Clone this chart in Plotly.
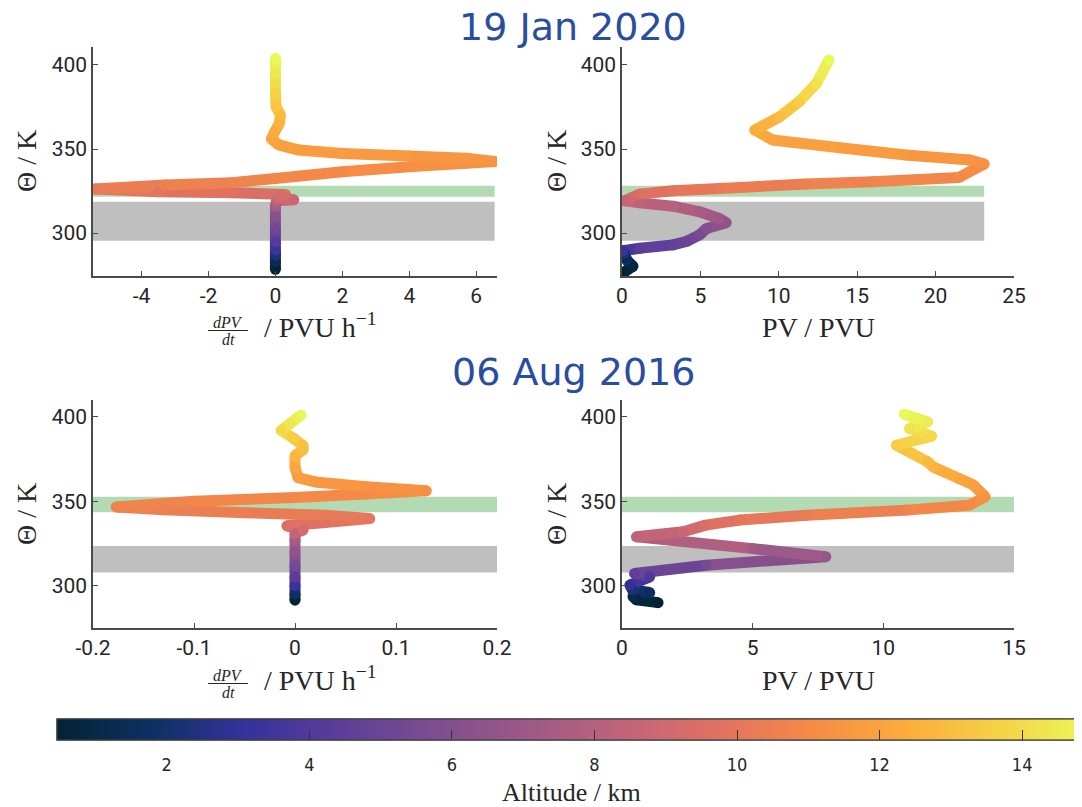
import plotly.graph_objects as go
from plotly.colors import sample_colorscale

# ---------------- data ----------------
# 19 Jan 2020 : dPV/dt profile
jan_dpvdt = [0, 0, 0, 0, 0, 0, 0, 0, 0.03, 0.55, 0.1, 0.3, -1.3, -3.5, -5.4, -3.3, -1.3, 0.0, 2.0, 4.0,
             5.7, 6.55, 5.7, 4.0, 2.0, 0.7, 0.1, -0.12, -0.03, 0.12, 0.15, 0.02, 0.0, 0.0, 0.0]
jan_dpvdt_theta = [278.5, 283, 287, 290, 295, 302, 310, 316, 319.2, 319.8, 321.3, 323.0, 324.0, 324.6, 326.2,
                   328.6, 330.0, 332.5, 336.5, 339.5, 341.5, 342.6, 344.5, 345.8, 347.4, 349.4, 352.5, 356.0,
                   360.0, 365.3, 370.2, 375.2, 383, 395, 404]
jan_dpvdt_alt = [0.5, 1.3, 2.3, 3.3, 4.2, 5.2, 6.2, 7.4, 8.3, 8.8, 9.1, 9.4, 9.7, 9.9, 10.2, 10.5, 10.6, 10.8,
                 11.0, 11.2, 11.3, 11.4, 11.5, 11.6, 11.7, 11.8, 11.9, 12.1, 12.3, 12.6, 12.9, 13.2, 13.7, 14.4, 15.0]

# 19 Jan 2020 : PV profile
jan_pv = [0.17, 0.7, 0.3, 0.17, 0.06, 1.13, 3.25, 4.1, 4.95, 5.4, 6.65, 6.2, 4.95, 3.25, 1.13, 0.17, 1.13,
          3.25, 6.23, 11.75, 16.0, 21.5, 23.1, 22.2, 18.1, 13.9, 9.6, 8.46, 10.05, 11.3, 12.4, 13.2]
jan_pv_theta = [277, 280.3, 284, 288, 289.5, 291, 293, 295, 299, 302.8, 306.2, 308.7, 312.7, 316, 318, 319.2,
                323.2, 325.2, 326.6, 329.2, 330.6, 333.1, 341.1, 343.5, 346.5, 350.8, 355.4, 361.3, 369.2,
                378.2, 389, 403]
jan_pv_alt = [0.5, 0.9, 1.4, 2.2, 3.2, 4.3, 4.7, 5.0, 5.5, 6.0, 6.6, 7.0, 7.5, 8.0, 8.3, 8.6, 9.5, 9.9, 10.2,
              10.5, 10.7, 10.9, 11.3, 11.4, 11.6, 11.8, 12.0, 12.4, 12.9, 13.5, 14.2, 15.0]

# 06 Aug 2016 : dPV/dt profile
aug_dpvdt = [0, 0, 0, 0, 0, 0, 0, 0, 0.008, -0.008, 0.03, 0.074, 0.03, -0.05, -0.13, -0.177, -0.1, 0.0,
             0.07, 0.13, 0.07, 0.02, 0.003, 0.0, 0.0, 0.008, 0.008, -0.002, -0.0136, -0.005, 0.006]
aug_dpvdt_theta = [291.5, 295, 300, 305, 312, 320, 327, 331, 333, 335.5, 337.5, 339.8, 341.8, 343.3, 345.0,
                   346.7, 350.0, 352.3, 354.3, 356.2, 358.6, 361.5, 364, 370, 377, 380.5, 383, 387.5, 392,
                   396, 401]
aug_dpvdt_alt = [0.5, 1.8, 3.2, 4.3, 5.4, 6.5, 7.5, 8.5, 9.2, 9.5, 9.8, 10.0, 10.2, 10.4, 10.5, 10.6, 10.8,
                 10.9, 11.0, 11.2, 11.4, 11.6, 11.8, 12.2, 12.7, 12.9, 13.1, 13.5, 13.9, 14.4, 14.9]

# 06 Aug 2016 : PV profile
aug_pv = [1.38, 0.55, 0.42, 1.06, 0.4, 0.3, 1.06, 0.48, 3.23, 7.8, 5.0, 0.55, 2.34, 3.2, 4.5, 7.06, 10.9,
          13.3, 13.9, 13.45, 12.9, 11.9, 11.7, 10.5, 11.85, 11.0, 11.7, 10.8]
aug_pv_theta = [290, 291.7, 293.7, 296, 297.6, 300.4, 305.3, 307.3, 312.2, 317.2, 322, 329, 332, 335.9,
                338.9, 341.8, 344.8, 347.7, 352.7, 359.6, 363.5, 370.4, 373.4, 383.2, 388.6, 393.1, 397, 401.6]
aug_pv_alt = [0.5, 0.8, 1.1, 1.6, 2.2, 3.0, 3.9, 4.5, 5.5, 6.8, 7.3, 8.3, 8.8, 9.5, 9.9, 10.3, 10.7, 11.0,
              11.4, 11.9, 12.1, 12.6, 12.8, 13.5, 13.9, 14.3, 14.6, 15.0]

# highlighted theta layers [bottom, top]
jan_green_band = [321.6, 328.2]
jan_gray_band = [295.4, 318.6]
aug_green_band = [343.6, 352.7]
aug_gray_band = [307.9, 323.5]

titles = ["19 Jan 2020", "06 Aug 2016"]
dpvdt_ticks_jan = [-4, -2, 0, 2, 4, 6]
dpvdt_ticks_aug = [-0.2, -0.1, 0, 0.1, 0.2]
dpvdt_ticktext_aug = ["-0.2", "-0.1", "0", "0.1", "0.2"]
pv_ticks_jan = [0, 5, 10, 15, 20, 25]
pv_ticks_aug = [0, 5, 10, 15]
theta_ticks = [300, 350, 400]
alt_ticks = [2, 4, 6, 8, 10, 12, 14]

# ---------------- style ----------------
OFF = 8                      # page body margin of the html page
W, H = 1082 - OFF, 807 - OFF
THERMAL = ['rgb(3, 35, 51)', 'rgb(13, 48, 100)', 'rgb(53, 50, 155)', 'rgb(93, 62, 153)',
           'rgb(126, 77, 143)', 'rgb(158, 89, 135)', 'rgb(193, 100, 121)', 'rgb(225, 113, 97)',
           'rgb(246, 139, 69)', 'rgb(251, 173, 60)', 'rgb(246, 211, 70)', 'rgb(231, 250, 90)']
CMIN, CMAX = 0.46, 15.05
TICKFONT = dict(family="Roboto, Arial, sans-serif", size=21, color="#262626")
SERIF = "Liberation Serif, Times New Roman, serif"
AXCOL = "#4a4a4a"
LW = 11


def px_x(p):
    return (p - OFF) / W


def px_y(p):
    return 1 - (p - OFF) / H


dom_left = [px_x(93), px_x(497)]
dom_right = [px_x(622), px_x(1014)]
dom_top = [px_y(276), px_y(47)]
dom_bot = [px_y(628), px_y(400)]

fig = go.Figure()

panels = [
    (jan_dpvdt, jan_dpvdt_theta, jan_dpvdt_alt, "x", "y"),
    (jan_pv, jan_pv_theta, jan_pv_alt, "x2", "y2"),
    (aug_dpvdt, aug_dpvdt_theta, aug_dpvdt_alt, "x3", "y3"),
    (aug_pv, aug_pv_theta, aug_pv_alt, "x4", "y4"),
]


def tocolor(a):
    t = min(max((a - CMIN) / (CMAX - CMIN), 0), 1)
    return sample_colorscale(THERMAL, [t])[0]


cb_common = dict(orientation="h", x=px_x(57), xanchor="left", y=px_y(719), yanchor="top",
                 len=1040, lenmode="pixels", thickness=21, xpad=0, ypad=0,
                 outlinecolor="#404040", outlinewidth=1.2, tickvals=alt_ticks)
# colorbar 1: labels pushed down by invisible outside ticks
cb_labels = dict(cb_common, ticks="outside", ticklen=9, tickcolor="rgba(0,0,0,0)",
                 tickfont=dict(family="DejaVu Sans Condensed, Liberation Sans Narrow, Roboto, sans-serif",
                               size=18, color="#262626"))
# colorbar 2: inside tick marks, no labels
cb_marks = dict(cb_common, ticks="inside", ticklen=10, tickcolor="#333333", tickwidth=1.2,
                showticklabels=False)

for k, (xs, ts, alts, xa, ya) in enumerate(panels):
    for i in range(len(xs) - 1):
        fig.add_trace(go.Scatter(
            x=[xs[i], xs[i + 1]], y=[ts[i], ts[i + 1]], mode="lines",
            line=dict(color=tocolor((alts[i] + alts[i + 1]) / 2), width=LW),
            xaxis=xa, yaxis=ya, showlegend=False, hoverinfo="skip"))
    fig.add_trace(go.Scatter(
        x=xs, y=ts, mode="markers", xaxis=xa, yaxis=ya, showlegend=False,
        marker=dict(size=LW, color=alts, colorscale=THERMAL, cmin=CMIN, cmax=CMAX,
                    line=dict(width=0),
                    showscale=(k in (0, 1)),
                    colorbar=(cb_labels if k == 0 else cb_marks))))

# bands
bands = [
    ("x", "y", -5.45, 6.55, jan_green_band, jan_gray_band),
    ("x2", "y2", 0, 23.1, jan_green_band, jan_gray_band),
    ("x3", "y3", -0.2, 0.2, aug_green_band, aug_gray_band),
    ("x4", "y4", 0, 15, aug_green_band, aug_gray_band),
]
for xa, ya, x0, x1, g, gr in bands:
    fig.add_shape(type="rect", xref=xa, yref=ya, x0=x0, x1=x1, y0=g[0], y1=g[1],
                  fillcolor="#b3dbb3", line=dict(width=0), layer="below")
    fig.add_shape(type="rect", xref=xa, yref=ya, x0=x0, x1=x1, y0=gr[0], y1=gr[1],
                  fillcolor="#bfbfbf", line=dict(width=0), layer="below")

axcommon = dict(showline=True, linecolor=AXCOL, linewidth=1.5, ticks="inside", ticklen=5,
                tickcolor=AXCOL, tickwidth=1.3, showgrid=False, zeroline=False, tickfont=TICKFONT)

fig.update_layout(
    width=W, height=H, margin=dict(l=0, r=0, t=0, b=0, autoexpand=False),
    paper_bgcolor="white", plot_bgcolor="white",
    xaxis=dict(domain=dom_left, anchor="y", range=[-5.45, 6.62], tickvals=dpvdt_ticks_jan,
               ticktext=[str(v) for v in dpvdt_ticks_jan], **axcommon),
    yaxis=dict(domain=dom_top, anchor="x", range=[274.5, 410.7], tickvals=theta_ticks, **axcommon),
    xaxis2=dict(domain=dom_right, anchor="y2", range=[0, 25], tickvals=pv_ticks_jan, **axcommon),
    yaxis2=dict(domain=dom_top, anchor="x2", range=[274.5, 410.7], tickvals=theta_ticks, **axcommon),
    xaxis3=dict(domain=dom_left, anchor="y3", range=[-0.2, 0.2], tickvals=dpvdt_ticks_aug,
                ticktext=dpvdt_ticktext_aug, **axcommon),
    yaxis3=dict(domain=dom_bot, anchor="x3", range=[275, 410], tickvals=theta_ticks, **axcommon),
    xaxis4=dict(domain=dom_right, anchor="y4", range=[0, 15], tickvals=pv_ticks_aug, **axcommon),
    yaxis4=dict(domain=dom_bot, anchor="x4", range=[275, 410], tickvals=theta_ticks, **axcommon),
)

ann = []
# titles
for txt, yc in zip(titles, [27, 372]):
    ann.append(dict(text=txt, x=px_x(573), y=px_y(yc), xref="paper", yref="paper", showarrow=False,
                    xanchor="center", yanchor="middle",
                    font=dict(family="DejaVu Sans, Verdana, sans-serif", size=38, color="#2a4d9e")))
# y axis titles
for xc in [27, 557]:
    for yc in [161, 514]:
        ann.append(dict(text="Θ / K", x=px_x(xc), y=px_y(yc), xref="paper", yref="paper",
                        showarrow=False, textangle=-90, xanchor="center", yanchor="middle",
                        font=dict(family=SERIF, size=28, color="#262626")))
# PV labels
for yc in [327, 680]:
    ann.append(dict(text="PV / PVU", x=px_x(818), y=px_y(yc), xref="paper", yref="paper",
                    showarrow=False, xanchor="center", yanchor="middle",
                    font=dict(family=SERIF, size=28, color="#262626")))
# dPV/dt labels
for dy in [0, 353]:
    ann.append(dict(text="<i>dPV</i>", x=px_x(228), y=px_y(322 + dy), xref="paper", yref="paper",
                    showarrow=False, xanchor="center", yanchor="middle",
                    font=dict(family=SERIF, size=16, color="#262626")))
    ann.append(dict(text="<i>dt</i>", x=px_x(228), y=px_y(339 + dy), xref="paper", yref="paper",
                    showarrow=False, xanchor="center", yanchor="middle",
                    font=dict(family=SERIF, size=16, color="#262626")))
    ann.append(dict(text="/ PVU h<sup>−1</sup>", x=px_x(262), y=px_y(325 + dy), xref="paper",
                    yref="paper", showarrow=False, xanchor="left", yanchor="middle",
                    font=dict(family=SERIF, size=28, color="#262626")))
    fig.add_shape(type="line", xref="paper", yref="paper", x0=px_x(208), x1=px_x(248),
                  y0=px_y(330.5 + dy), y1=px_y(330.5 + dy), line=dict(color="#262626", width=1))
# colorbar title
ann.append(dict(text="Altitude / km", x=px_x(571), y=px_y(792), xref="paper", yref="paper",
                showarrow=False, xanchor="center", yanchor="middle",
                font=dict(family=SERIF, size=26, color="#262626")))
fig.update_layout(annotations=ann)

fig.write_html("out.html")
